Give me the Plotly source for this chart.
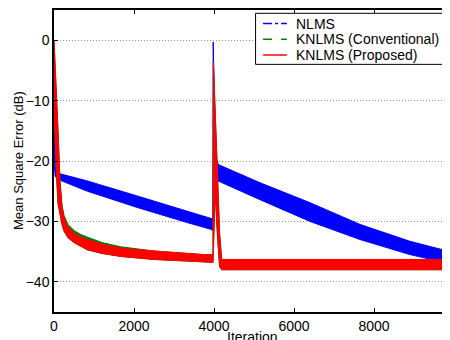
import plotly.graph_objects as go

# ---- data ----
nlms_iter  = [0, 30, 83, 833, 2083, 3333, 3917, 3970, 3980, 4000, 4040, 4108, 5150, 6400, 7650, 8900, 9900]
nlms_upper = [-5, -15, -22.0, -23.3, -25.8, -28.3, -29.4, -29.6, -0.3, -8, -19, -20.6, -23.6, -26.9, -30.5, -33.3, -35.0]
nlms_lower = [-20, -22.5, -23.0, -25.0, -27.7, -30.2, -31.3, -31.5, -31.5, -23.0, -23.2, -23.3, -26.4, -30.0, -33.0, -35.5, -37.0]

kn_iter  = [0, 45, 100, 150, 200, 250, 350, 500, 650, 833, 1200, 1667, 2500, 3750, 3975, 3985, 4030, 4083, 4140, 4192, 4300, 6000, 8000, 9900]
kp_upper = [0, -6, -15, -23.5, -27.6, -29.4, -30.9, -31.9, -32.5, -33.0, -33.8, -34.4, -34.9, -35.5, -35.5, -3.7, -12, -23.6, -32, -36.3, -36.3, -36.3, -36.3, -36.3]
kp_lower = [-10, -20, -27.0, -28.8, -30.5, -31.6, -32.7, -33.5, -34.1, -34.7, -35.3, -35.8, -36.3, -36.7, -36.8, -36.8, -25, -32, -37.5, -38, -38, -38, -38, -38]
kc_upper = [0, -6, -15, -23.3, -27.3, -29.0, -30.5, -31.5, -32.1, -32.6, -33.5, -34.2, -34.9, -35.5, -35.5, -3.7, -12, -23.6, -32, -36.4, -36.4, -36.4, -36.4, -36.4]
kc_lower = kp_lower

names = ["NLMS", "KNLMS (Conventional)", "KNLMS (Proposed)"]
colors = ["#0000ff", "#008000", "#ff0000"]
dashes = ["dashdot", "dash", "solid"]

x_ticks = [0, 2000, 4000, 6000, 8000]
y_ticks = [0, -10, -20, -30, -40]

fig = go.Figure()

def band(xs, up, lo, color, name):
    fig.add_trace(go.Scatter(
        x=list(xs) + list(xs)[::-1],
        y=list(up) + list(lo)[::-1],
        fill="toself", fillcolor=color, mode="lines", name=name,
        line=dict(color=color, width=1),
        showlegend=False, hoverinfo="skip"))

band(nlms_iter, nlms_upper, nlms_lower, colors[0], names[0])
band(kn_iter, kc_upper, kc_lower, colors[1], names[1])
band(kn_iter, kp_upper, kp_lower, colors[2], names[2])

# ---- manual legend (box, line samples, labels) in paper coordinates ----
leg_x0, leg_x1, leg_y0, leg_y1 = 0.509, 0.985, 0.820, 0.989
row_y = [0.955, 0.903, 0.851]
samp_x0, samp_x1, text_x = 0.528, 0.588, 0.607
shapes = [dict(type="rect", xref="paper", yref="paper", x0=leg_x0, x1=leg_x1,
               y0=leg_y0, y1=leg_y1, line=dict(color="black", width=1),
               fillcolor="white", layer="above")]
annotations = []
for n, c, d, ry in zip(names, colors, dashes, row_y):
    shapes.append(dict(type="line", xref="paper", yref="paper", x0=samp_x0, x1=samp_x1,
                       y0=ry, y1=ry, line=dict(color=c, width=1.5, dash=d), layer="above"))
    annotations.append(dict(text=n, xref="paper", yref="paper", x=text_x, y=ry,
                            xanchor="left", yanchor="middle", showarrow=False,
                            font=dict(size=14)))

annotations += [
    dict(text="Mean Square Error (dB)", xref="paper", yref="paper",
         x=-0.0909, y=0.5, xanchor="center", yanchor="middle",
         textangle=-90, showarrow=False, font=dict(size=13)),
    dict(text="Iteration", xref="paper", yref="paper",
         x=0.5025, y=-0.0497, xanchor="center", yanchor="top",
         showarrow=False, font=dict(size=14)),
]

font = "Liberation Sans, Arial, Helvetica, sans-serif"
fig.update_layout(
    width=442, height=332,
    margin=dict(l=46, r=0, t=2, b=28),
    paper_bgcolor="white", plot_bgcolor="white",
    font=dict(family=font, size=14, color="black"),
    showlegend=False,
    xaxis=dict(range=[0, 9900], tickvals=x_ticks, ticktext=[str(v) for v in x_ticks],
               showgrid=False, zeroline=False, showline=True, linecolor="black",
               linewidth=1.5, mirror="ticks", ticks="inside", ticklen=4,
               tickcolor="black", automargin=False),
    yaxis=dict(range=[-45, 5], tickvals=y_ticks,
               ticktext=["0", "\u221210", "\u221220", "\u221230", "\u221240"],
               showgrid=True, gridcolor="#8c8c8c", griddash="1px,2px", gridwidth=1,
               zeroline=False, showline=True, linecolor="black", linewidth=1.5,
               ticks="inside", ticklen=4, tickcolor="black", automargin=False),
    shapes=shapes,
    annotations=annotations,
)

fig.write_html("out.html")
